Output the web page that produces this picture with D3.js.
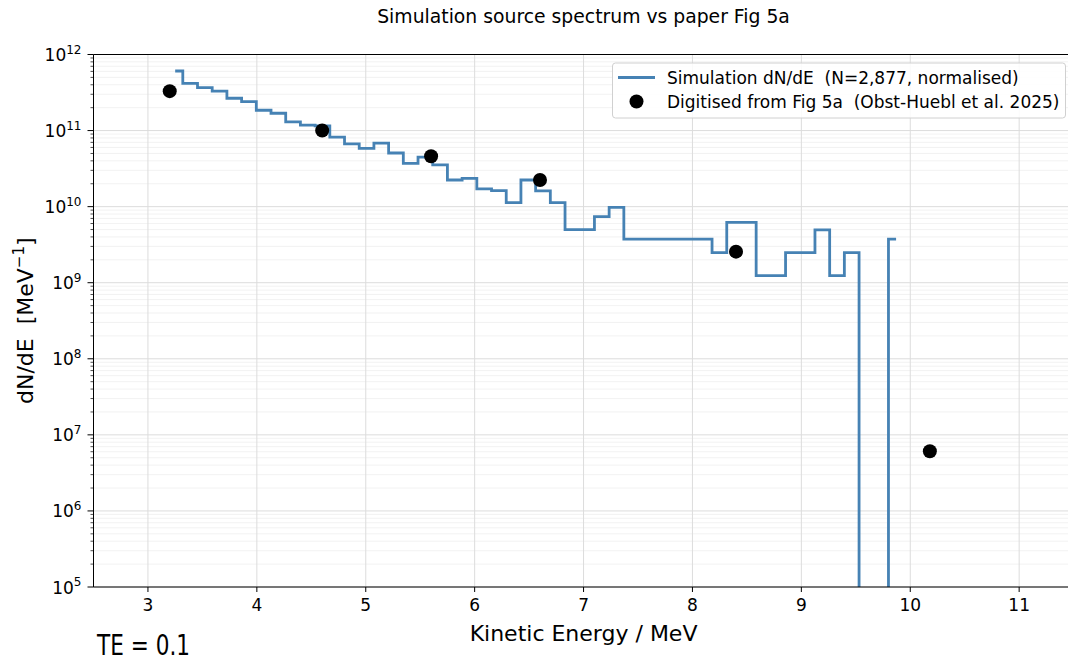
<!DOCTYPE html>
<html>
<head>
<meta charset="utf-8">
<script src="https://cdn.jsdelivr.net/npm/d3@7"></script>
<style>
  body { margin: 0; background: #fff; }
  text { font-family: "DejaVu Sans", sans-serif; fill: #000; white-space: pre; }
</style>
</head>
<body>
<svg width="1068" height="661"></svg>
<script>
// bin centres (MeV) of the simulated spectrum
var binCentres = [3.25, 3.39, 3.52, 3.66, 3.79, 3.93, 4.06, 4.20, 4.33, 4.47,
  4.60, 4.74, 4.87, 5.01, 5.14, 5.28, 5.41, 5.55, 5.68, 5.82,
  5.95, 6.09, 6.22, 6.36, 6.49, 6.63, 6.76, 6.90, 7.03, 7.17,
  7.30, 7.44, 7.57, 7.71, 7.84, 7.98, 8.11, 8.25, 8.38, 8.52,
  8.65, 8.79, 8.92, 9.06, 9.19, 9.33, 9.46, 9.60, 9.73, 9.87];

// dN/dE per bin (MeV^-1), 0 = empty bin
var simValues = [6.07e11, 4.18e11, 3.68e11, 3.31e11, 2.66e11, 2.40e11, 1.85e11, 1.69e11, 1.30e11, 1.18e11,
  1.15e11, 8.2e10, 6.7e10, 5.85e10, 6.85e10, 5.07e10, 3.71e10, 4.49e10, 3.53e10, 2.24e10,
  2.36e10, 1.71e10, 1.62e10, 1.13e10, 2.24e10, 1.61e10, 1.13e10, 5.0e9, 5.0e9, 7.4e9,
  9.8e9, 3.73e9, 3.73e9, 3.73e9, 3.73e9, 3.73e9, 3.73e9, 2.49e9, 6.2e9, 6.2e9,
  1.24e9, 1.24e9, 2.49e9, 2.49e9, 4.95e9, 1.24e9, 2.49e9, 0, 0, 3.73e9];

var paperEnergy = [3.2, 4.6, 5.6, 6.6, 8.4, 10.18];
var paperValues = [3.3e11, 1.0e11, 4.6e10, 2.24e10, 2.56e9, 6.1e6];

var xTicks = [3, 4, 5, 6, 7, 8, 9, 10, 11];
var yExponents = [5, 6, 7, 8, 9, 10, 11, 12];

var svg = d3.select("svg");
var pLeft = 93.5, pRight = 1073.6, pTop = 54.5, pBottom = 587;

svg.append("rect").attr("width", 1068).attr("height", 661).attr("fill", "#fff");

var x = d3.scaleLinear().domain([2.5, 11.5]).range([pLeft, pRight]);
var y = d3.scaleLog().domain([1e5, 1e12]).range([pBottom, pTop]);

svg.append("defs").append("clipPath").attr("id", "plot")
  .append("rect")
  .attr("x", pLeft).attr("y", pTop)
  .attr("width", pRight - pLeft).attr("height", pBottom - pTop);

// minor grid (2..9 x 10^k)
var minor = [];
yExponents.slice(0, -1).forEach(function (e) {
  for (var m = 2; m <= 9; m++) minor.push(m * Math.pow(10, e));
});

svg.append("g").selectAll("line")
  .data(minor)
  .enter()
  .append("line")
  .attr("x1", pLeft).attr("x2", pRight)
  .attr("y1", (d) => y(d)).attr("y2", (d) => y(d))
  .attr("stroke", "#efefef")
  .attr("stroke-width", 0.8);

// major grid
svg.append("g").selectAll("line")
  .data(yExponents)
  .enter()
  .append("line")
  .attr("x1", pLeft).attr("x2", pRight)
  .attr("y1", (d) => y(Math.pow(10, d))).attr("y2", (d) => y(Math.pow(10, d)))
  .attr("stroke", "#dcdcdc")
  .attr("stroke-width", 1);

svg.append("g").selectAll("line")
  .data(xTicks)
  .enter()
  .append("line")
  .attr("x1", (d) => x(d)).attr("x2", (d) => x(d))
  .attr("y1", pTop).attr("y2", pBottom)
  .attr("stroke", "#dcdcdc")
  .attr("stroke-width", 1);

// simulation step line (mid steps, empty bins fall off the bottom)
var line = d3.line()
  .x((d, i) => x(binCentres[i]))
  .y((d) => (d > 0 ? y(d) : pBottom + 200))
  .curve(d3.curveStep);

svg.append("path")
  .datum(simValues)
  .attr("clip-path", "url(#plot)")
  .attr("d", line)
  .attr("fill", "none")
  .attr("stroke", "#4682b4")
  .attr("stroke-width", 2.8);

svg.append("g").selectAll("circle")
  .data(paperEnergy)
  .enter()
  .append("circle")
  .attr("cx", (d) => x(d))
  .attr("cy", (d, i) => y(paperValues[i]))
  .attr("r", 7)
  .attr("fill", "#000");

// spines
svg.append("line").attr("x1", pLeft).attr("x2", pLeft).attr("y1", pTop).attr("y2", pBottom)
  .attr("stroke", "#000").attr("stroke-width", 1);
svg.append("line").attr("x1", pLeft).attr("x2", pRight).attr("y1", pTop).attr("y2", pTop)
  .attr("stroke", "#000").attr("stroke-width", 1);
svg.append("line").attr("x1", pLeft).attr("x2", pRight).attr("y1", pBottom).attr("y2", pBottom)
  .attr("stroke", "#000").attr("stroke-width", 1);

// x axis ticks
var xg = svg.append("g");
xg.selectAll("line")
  .data(xTicks)
  .enter()
  .append("line")
  .attr("x1", (d) => x(d)).attr("x2", (d) => x(d))
  .attr("y1", pBottom).attr("y2", pBottom + 5)
  .attr("stroke", "#000");
xg.selectAll("text")
  .data(xTicks)
  .enter()
  .append("text")
  .attr("x", (d) => x(d))
  .attr("y", pBottom + 23.5)
  .attr("text-anchor", "middle")
  .attr("font-size", "17px")
  .text((d) => d);

// y axis ticks, major + minor
var yg = svg.append("g");
yg.selectAll(".minor")
  .data(minor)
  .enter()
  .append("line")
  .attr("class", "minor")
  .attr("x1", pLeft - 3).attr("x2", pLeft)
  .attr("y1", (d) => y(d)).attr("y2", (d) => y(d))
  .attr("stroke", "#000")
  .attr("stroke-width", 0.7);
yg.selectAll(".major")
  .data(yExponents)
  .enter()
  .append("line")
  .attr("class", "major")
  .attr("x1", pLeft - 6).attr("x2", pLeft)
  .attr("y1", (d) => y(Math.pow(10, d))).attr("y2", (d) => y(Math.pow(10, d)))
  .attr("stroke", "#000");
var ylab = yg.selectAll("text")
  .data(yExponents)
  .enter()
  .append("text")
  .attr("x", pLeft - 12)
  .attr("y", (d) => y(Math.pow(10, d)) + 6.5)
  .attr("text-anchor", "end")
  .attr("font-size", "17px");
ylab.append("tspan").text("10");
ylab.append("tspan")
  .attr("font-size", "12px")
  .attr("dy", -7.5)
  .text((d) => d);

// axis labels and title
svg.append("text")
  .attr("x", (pLeft + pRight) / 2)
  .attr("y", 641)
  .attr("text-anchor", "middle")
  .attr("font-size", "22px")
  .text("Kinetic Energy / MeV");

var yt = svg.append("text")
  .attr("transform", "translate(33," + (pTop + pBottom) / 2 + ") rotate(-90)")
  .attr("text-anchor", "middle")
  .attr("font-size", "22px");
yt.append("tspan").text("dN/dE  [MeV");
yt.append("tspan").attr("font-size", "15px").attr("dy", -9).text("\u22121");
yt.append("tspan").attr("dy", 9).text("]");

svg.append("text")
  .attr("x", (pLeft + pRight) / 2)
  .attr("y", 23)
  .attr("text-anchor", "middle")
  .attr("font-size", "18.8px")
  .text("Simulation source spectrum vs paper Fig 5a");

// legend
var lg = svg.append("g");
lg.append("rect")
  .attr("x", 612.5).attr("y", 63)
  .attr("width", 453).attr("height", 55)
  .attr("rx", 3)
  .attr("fill", "#fff").attr("fill-opacity", 0.85)
  .attr("stroke", "#d0d0d0");
lg.append("line")
  .attr("x1", 618).attr("x2", 655)
  .attr("y1", 77.5).attr("y2", 77.5)
  .attr("stroke", "#4682b4").attr("stroke-width", 2.8);
lg.append("circle")
  .attr("cx", 636.5).attr("cy", 101.5).attr("r", 7).attr("fill", "#000");
lg.append("text")
  .attr("x", 667).attr("y", 83.5)
  .attr("font-size", "17px")
  .text("Simulation dN/dE  (N=2,877, normalised)");
lg.append("text")
  .attr("x", 667).attr("y", 107.5)
  .attr("font-size", "17px")
  .text("Digitised from Fig 5a  (Obst-Huebl et al. 2025)");

// run annotation
svg.append("text")
  .attr("x", 97)
  .attr("y", 655)
  .attr("font-size", "29px")
  .attr("textLength", 93)
  .attr("lengthAdjust", "spacingAndGlyphs")
  .text("TE = 0.1");
</script>
</body>
</html>
